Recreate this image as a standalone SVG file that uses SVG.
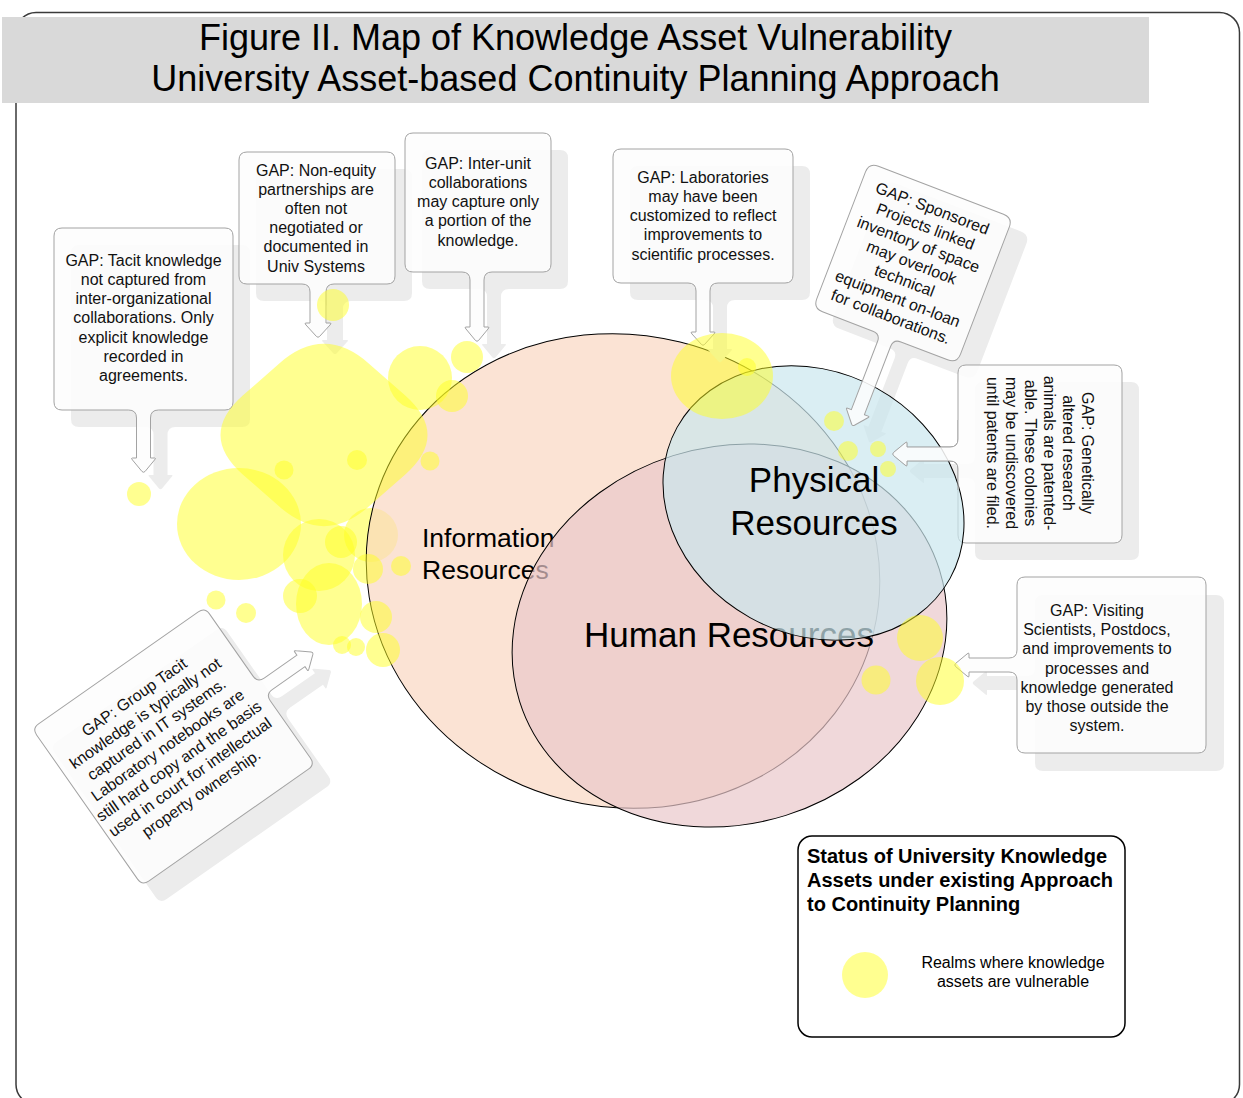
<svg xmlns="http://www.w3.org/2000/svg" width="1243" height="1098" viewBox="0 0 1243 1098">
  <defs>
    <style>
      .title { font-family: "Liberation Sans", Arial, sans-serif; font-size: 36px; fill: #000; text-anchor: middle; }
      .gap { font-family: "Liberation Sans", Arial, sans-serif; font-size: 16px; fill: #111; text-anchor: middle; }
      .realm { font-family: "Liberation Sans", Arial, sans-serif; fill: #000; }
      .box { fill: #fdfdfd; fill-opacity: 0.87; stroke: #a3a3a3; stroke-width: 1; stroke-linejoin: round; }
      .shadow { fill: #ececec; stroke: none; }
      .blob { fill: #ffff22; fill-opacity: 0.5; }
      .ring { stroke: #000; stroke-width: 1; }
    </style>
    <!-- callout outlines, drawn box-centred with the tail pointing down (+y) -->
    <path id="s1" d="M -81.5,-91 H 81.5 Q 89.5,-91 89.5,-83 V 83 Q 89.5,91 81.5,91 H 15 Q 7,91 7,99 V 139 H 11 Q 13,139 11,141 L 1.5,152.5 Q 0,154 -1.5,152.5 L -11,141 Q -13,139 -11,139 H -7 V 99 Q -7,91 -15,91 H -81.5 Q -89.5,91 -89.5,83 V -83 Q -89.5,-91 -81.5,-91 Z"/>
    <path id="s2" d="M -70,-66 H 70 Q 78,-66 78,-58 V 58 Q 78,66 70,66 H 17 Q 9,66 9,74 V 105 H 13 Q 15,105 13,107 L 2.5,118.5 Q 1,120 -0.5,118.5 L -11,107 Q -13,105 -11,105 H -7 V 74 Q -7,66 -15,66 H -70 Q -78,66 -78,58 V -58 Q -78,-66 -70,-66 Z"/>
    <path id="s3" d="M -65,-69.5 H 65 Q 73,-69.5 73,-61.5 V 61.5 Q 73,69.5 65,69.5 H 14 Q 6,69.5 6,77.5 V 124.5 H 10 Q 12,124.5 10,126.5 L 0.5,138 Q -1,139.5 -2.5,138 L -12,126.5 Q -14,124.5 -12,124.5 H -8 V 77.5 Q -8,69.5 -16,69.5 H -65 Q -73,69.5 -73,61.5 V -61.5 Q -73,-69.5 -65,-69.5 Z"/>
    <path id="s4" d="M -82,-67 H 82 Q 90,-67 90,-59 V 59 Q 90,67 82,67 H 15 Q 7,67 7,75 V 116 H 11 Q 13,116 11,118 L 1.5,128.5 Q 0,130 -1.5,128.5 L -11,118 Q -13,116 -11,116 H -7 V 75 Q -7,67 -15,67 H -82 Q -90,67 -90,59 V -59 Q -90,-67 -82,-67 Z"/>
    <path id="s5" d="M -67,-78 H 67 Q 77,-78 77,-68 V 68 Q 77,78 67,78 H 17 Q 9,78 9,86 V 159 H 13 Q 15,159 13,161 L 3.5,172.5 Q 2,174 0.5,172.5 L -9,161 Q -11,159 -9,159 H -5 V 86 Q -5,78 -13,78 H -67 Q -77,78 -77,68 V -68 Q -77,-78 -67,-78 Z"/>
    <path id="s6" d="M -81,-82 H 81 Q 89,-82 89,-74 V 74 Q 89,82 81,82 H 15 Q 7,82 7,90 V 133 H 11 Q 13,133 11,135 L 1.5,146.5 Q 0,148 -1.5,146.5 L -11,135 Q -13,133 -11,133 H -7 V 90 Q -7,82 -15,82 H -81 Q -89,82 -89,74 V -74 Q -89,-82 -81,-82 Z"/>
    <path id="s7" d="M -80,-94.5 H 80 Q 88,-94.5 88,-86.5 V 86.5 Q 88,94.5 80,94.5 H 15 Q 7,94.5 7,102.5 V 142.5 H 11 Q 13,142.5 11,144.5 L 1.5,156 Q 0,157.5 -1.5,156 L -11,144.5 Q -13,142.5 -11,142.5 H -7 V 102.5 Q -7,94.5 -15,94.5 H -80 Q -88,94.5 -88,86.5 V -86.5 Q -88,-94.5 -80,-94.5 Z"/>
    <path id="s8" d="M -88,-105.5 H 88 Q 96,-105.5 96,-97.5 V 97.5 Q 96,105.5 88,105.5 H 12 Q 4,105.5 4,113.5 V 153.5 H 8 Q 10,153.5 8,155.5 L -1.5,167 Q -3,168.5 -4.5,167 L -14,155.5 Q -16,153.5 -14,153.5 H -10 V 113.5 Q -10,105.5 -18,105.5 H -88 Q -96,105.5 -96,97.5 V -97.5 Q -96,-105.5 -88,-105.5 Z"/>
    <!-- the part of the genetics callout left of its box (its pointer) -->
    <clipPath id="pointer6"><rect x="850" y="420" width="108.5" height="70"/></clipPath>
  </defs>

  <rect width="1243" height="1098" fill="#fff"/>

  <!-- page frame and title band -->
  <rect id="frame" x="16" y="12.5" width="1223.5" height="1092" rx="20" fill="none" stroke="#3a3a3a" stroke-width="1.5"/>
  <g id="title">
    <rect x="2" y="17" width="1147" height="86" fill="#d9d9d9"/>
    <text class="title" x="575.5" y="49.5">Figure II. Map of Knowledge Asset Vulnerability</text>
    <text class="title" x="575.5" y="91">University Asset-based Continuity Planning Approach</text>
  </g>

  <!-- vulnerable realm sitting beneath the information field -->
  <circle class="blob" cx="371" cy="535" r="27"/>

  <!-- resource fields -->
  <g id="information">
    <ellipse class="ring" cx="623" cy="571" rx="258" ry="236" transform="rotate(14 623 571)" fill="#f9d7c2" fill-opacity="0.7"/>
    <text class="realm" font-size="26.5" x="422" y="547">Information</text>
    <text class="realm" font-size="26.5" x="422" y="579">Resources</text>
  </g>
  <g id="human">
    <ellipse class="ring" cx="729.5" cy="635.5" rx="220" ry="188.5" transform="rotate(-17.4 729.5 635.5)" fill="#e9c7ca" fill-opacity="0.7"/>
    <text class="realm" font-size="35" x="729" y="647" text-anchor="middle">Human Resources</text>
  </g>

  <!-- callout shadows -->
  <g id="shadows" class="shadow">
    <use href="#s1" transform="translate(160.5,336)"/>
    <use href="#s2" transform="translate(334,235)"/>
    <use href="#s3" transform="translate(495,219.5)"/>
    <use href="#s4" transform="translate(720,233)"/>
    <use href="#s5" transform="translate(930,280) rotate(21)"/>
    <use href="#s6" transform="translate(1057,471) rotate(90)"/>
    <use href="#s7" transform="translate(1129.5,683) rotate(90)"/>
    <use href="#s8" transform="translate(191.5,764.5) rotate(-125)"/>
  </g>

  <!-- genetics callout box lies under the physical field -->
  <g id="gap-genetic">
    <use class="box" href="#s6" transform="translate(1040,454) rotate(90)"/>
    <text class="gap" transform="translate(1040,454) rotate(90)" x="-1" y="-42"><tspan x="-1">GAP: Genetically</tspan><tspan x="-1" dy="19">altered research</tspan><tspan x="-1" dy="19">animals are patented-</tspan><tspan x="-1" dy="19">able. These colonies</tspan><tspan x="-1" dy="19">may be undiscovered</tspan><tspan x="-1" dy="19">until patents are filed.</tspan></text>
  </g>

  <g id="physical">
    <ellipse class="ring" cx="813.5" cy="503" rx="156" ry="131" transform="rotate(29 813.5 503)" fill="#cae7ee" fill-opacity="0.7"/>
    <text class="realm" font-size="35" x="814" y="492" text-anchor="middle">Physical</text>
    <text class="realm" font-size="35" x="814" y="535" text-anchor="middle">Resources</text>
  </g>

  <!-- genetics pointer drawn over the physical field -->
  <g clip-path="url(#pointer6)">
    <use class="box" href="#s6" transform="translate(1040,454) rotate(90)"/>
  </g>

  <!-- gap callouts -->
  <g id="gap-tacit">
    <use class="box" href="#s1" transform="translate(143.5,319)"/>
    <text class="gap" x="143.5" y="265.7"><tspan x="143.5">GAP: Tacit knowledge</tspan><tspan x="143.5" dy="19.2">not captured from</tspan><tspan x="143.5" dy="19.2">inter-organizational</tspan><tspan x="143.5" dy="19.2">collaborations. Only</tspan><tspan x="143.5" dy="19.2">explicit knowledge</tspan><tspan x="143.5" dy="19.2">recorded in</tspan><tspan x="143.5" dy="19.2">agreements.</tspan></text>
  </g>
  <g id="gap-nonequity">
    <use class="box" href="#s2" transform="translate(317,218)"/>
    <text class="gap" x="316" y="175.5"><tspan x="316">GAP: Non-equity</tspan><tspan x="316" dy="19.2">partnerships are</tspan><tspan x="316" dy="19.2">often not</tspan><tspan x="316" dy="19.2">negotiated or</tspan><tspan x="316" dy="19.2">documented in</tspan><tspan x="316" dy="19.2">Univ Systems</tspan></text>
  </g>
  <g id="gap-interunit">
    <use class="box" href="#s3" transform="translate(478,202.5)"/>
    <text class="gap" x="478" y="168.7"><tspan x="478">GAP: Inter-unit</tspan><tspan x="478" dy="19.2">collaborations</tspan><tspan x="478" dy="19.2">may capture only</tspan><tspan x="478" dy="19.2">a portion of the</tspan><tspan x="478" dy="19.2">knowledge.</tspan></text>
  </g>
  <g id="gap-laboratories">
    <use class="box" href="#s4" transform="translate(703,216)"/>
    <text class="gap" x="703" y="182.7"><tspan x="703">GAP: Laboratories</tspan><tspan x="703" dy="19.2">may have been</tspan><tspan x="703" dy="19.2">customized to reflect</tspan><tspan x="703" dy="19.2">improvements to</tspan><tspan x="703" dy="19.2">scientific processes.</tspan></text>
  </g>
  <g id="gap-sponsored">
    <use class="box" href="#s5" transform="translate(913,263) rotate(21)"/>
    <text class="gap" transform="translate(913,263) rotate(21)" x="-1.5" y="-52.5"><tspan x="-1.5">GAP: Sponsored</tspan><tspan x="-1.5" dy="19.35">Projects linked</tspan><tspan x="-1.5" dy="19.35">inventory of space</tspan><tspan x="-1.5" dy="19.35">may overlook</tspan><tspan x="-1.5" dy="19.35">technical</tspan><tspan x="-1.5" dy="19.35">equipment on-loan</tspan><tspan x="-1.5" dy="19.35">for collaborations.</tspan></text>
  </g>
  <g id="gap-visiting">
    <use class="box" href="#s7" transform="translate(1111.5,665) rotate(90)"/>
    <text class="gap" x="1097" y="616"><tspan x="1097">GAP: Visiting</tspan><tspan x="1097" dy="19.2">Scientists, Postdocs,</tspan><tspan x="1097" dy="19.2">and improvements to</tspan><tspan x="1097" dy="19.2">processes and</tspan><tspan x="1097" dy="19.2">knowledge generated</tspan><tspan x="1097" dy="19.2">by those outside the</tspan><tspan x="1097" dy="19.2">system.</tspan></text>
  </g>
  <g id="gap-group-tacit">
    <use class="box" href="#s8" transform="translate(173.5,746.5) rotate(-125)"/>
    <text class="gap" transform="translate(173.5,746.5) rotate(-35)" x="-4" y="-57.5"><tspan x="-4">GAP: Group Tacit</tspan><tspan x="-4" dy="19.5">knowledge is typically not</tspan><tspan x="-4" dy="19.5">captured in IT systems.</tspan><tspan x="-4" dy="19.5">Laboratory notebooks are</tspan><tspan x="-4" dy="19.5">still hard copy and the basis</tspan><tspan x="-4" dy="19.5">used in court for intellectual</tspan><tspan x="-4" dy="19.5">property ownership.</tspan></text>
  </g>

  <!-- realms where knowledge assets are vulnerable -->
  <g id="vulnerable-realms" class="blob">
    <path d="M 279,363.7 Q 324,324 369,363.7 L 405,395.3 Q 450,435 405,474.7 L 369,506.3 Q 324,546 279,506.3 L 243,474.7 Q 198,435 243,395.3 Z"/>
    <ellipse cx="239" cy="524" rx="62" ry="56"/>
    <circle cx="319" cy="555" r="36"/>
    <ellipse cx="329" cy="604" rx="33" ry="41"/>
    <circle cx="300" cy="596" r="17"/>
    <circle cx="341" cy="542" r="16"/>
    <circle cx="368" cy="569" r="15"/>
    <circle cx="401" cy="566" r="10"/>
    <circle cx="376" cy="617" r="16"/>
    <circle cx="383" cy="650" r="17"/>
    <circle cx="342" cy="645" r="9"/>
    <circle cx="356" cy="647" r="9"/>
    <circle cx="216" cy="600" r="9.5"/>
    <circle cx="246" cy="613" r="10"/>
    <circle cx="284" cy="470" r="9.5"/>
    <circle cx="357" cy="460" r="10"/>
    <circle cx="430" cy="461" r="9.5"/>
    <circle cx="420" cy="378" r="32"/>
    <circle cx="452" cy="396" r="16"/>
    <circle cx="467" cy="357" r="16"/>
    <circle cx="333" cy="305" r="16"/>
    <circle cx="139" cy="494" r="12"/>
    <ellipse cx="722" cy="376" rx="51" ry="43"/>
    <circle cx="747" cy="367" r="9"/>
    <circle cx="834" cy="421" r="10"/>
    <circle cx="848" cy="451" r="10"/>
    <circle cx="878" cy="449" r="8"/>
    <circle cx="888" cy="469" r="8"/>
    <circle cx="920" cy="638" r="23"/>
    <circle cx="940" cy="681" r="24"/>
    <circle cx="876" cy="680" r="14.5"/>
  </g>

  <!-- legend -->
  <g id="legend">
    <rect x="798" y="836" width="327" height="201" rx="14" fill="#fff" stroke="#000" stroke-width="1.5"/>
    <text class="realm" font-size="20" font-weight="bold" x="807" y="863"><tspan x="807">Status of University Knowledge</tspan><tspan x="807" dy="24">Assets under existing Approach</tspan><tspan x="807" dy="24">to Continuity Planning</tspan></text>
    <circle class="blob" cx="865" cy="975" r="23"/>
    <text class="realm" font-size="16" text-anchor="middle" x="1013" y="968"><tspan x="1013">Realms where knowledge</tspan><tspan x="1013" dy="18.6">assets are vulnerable</tspan></text>
  </g>
</svg>
